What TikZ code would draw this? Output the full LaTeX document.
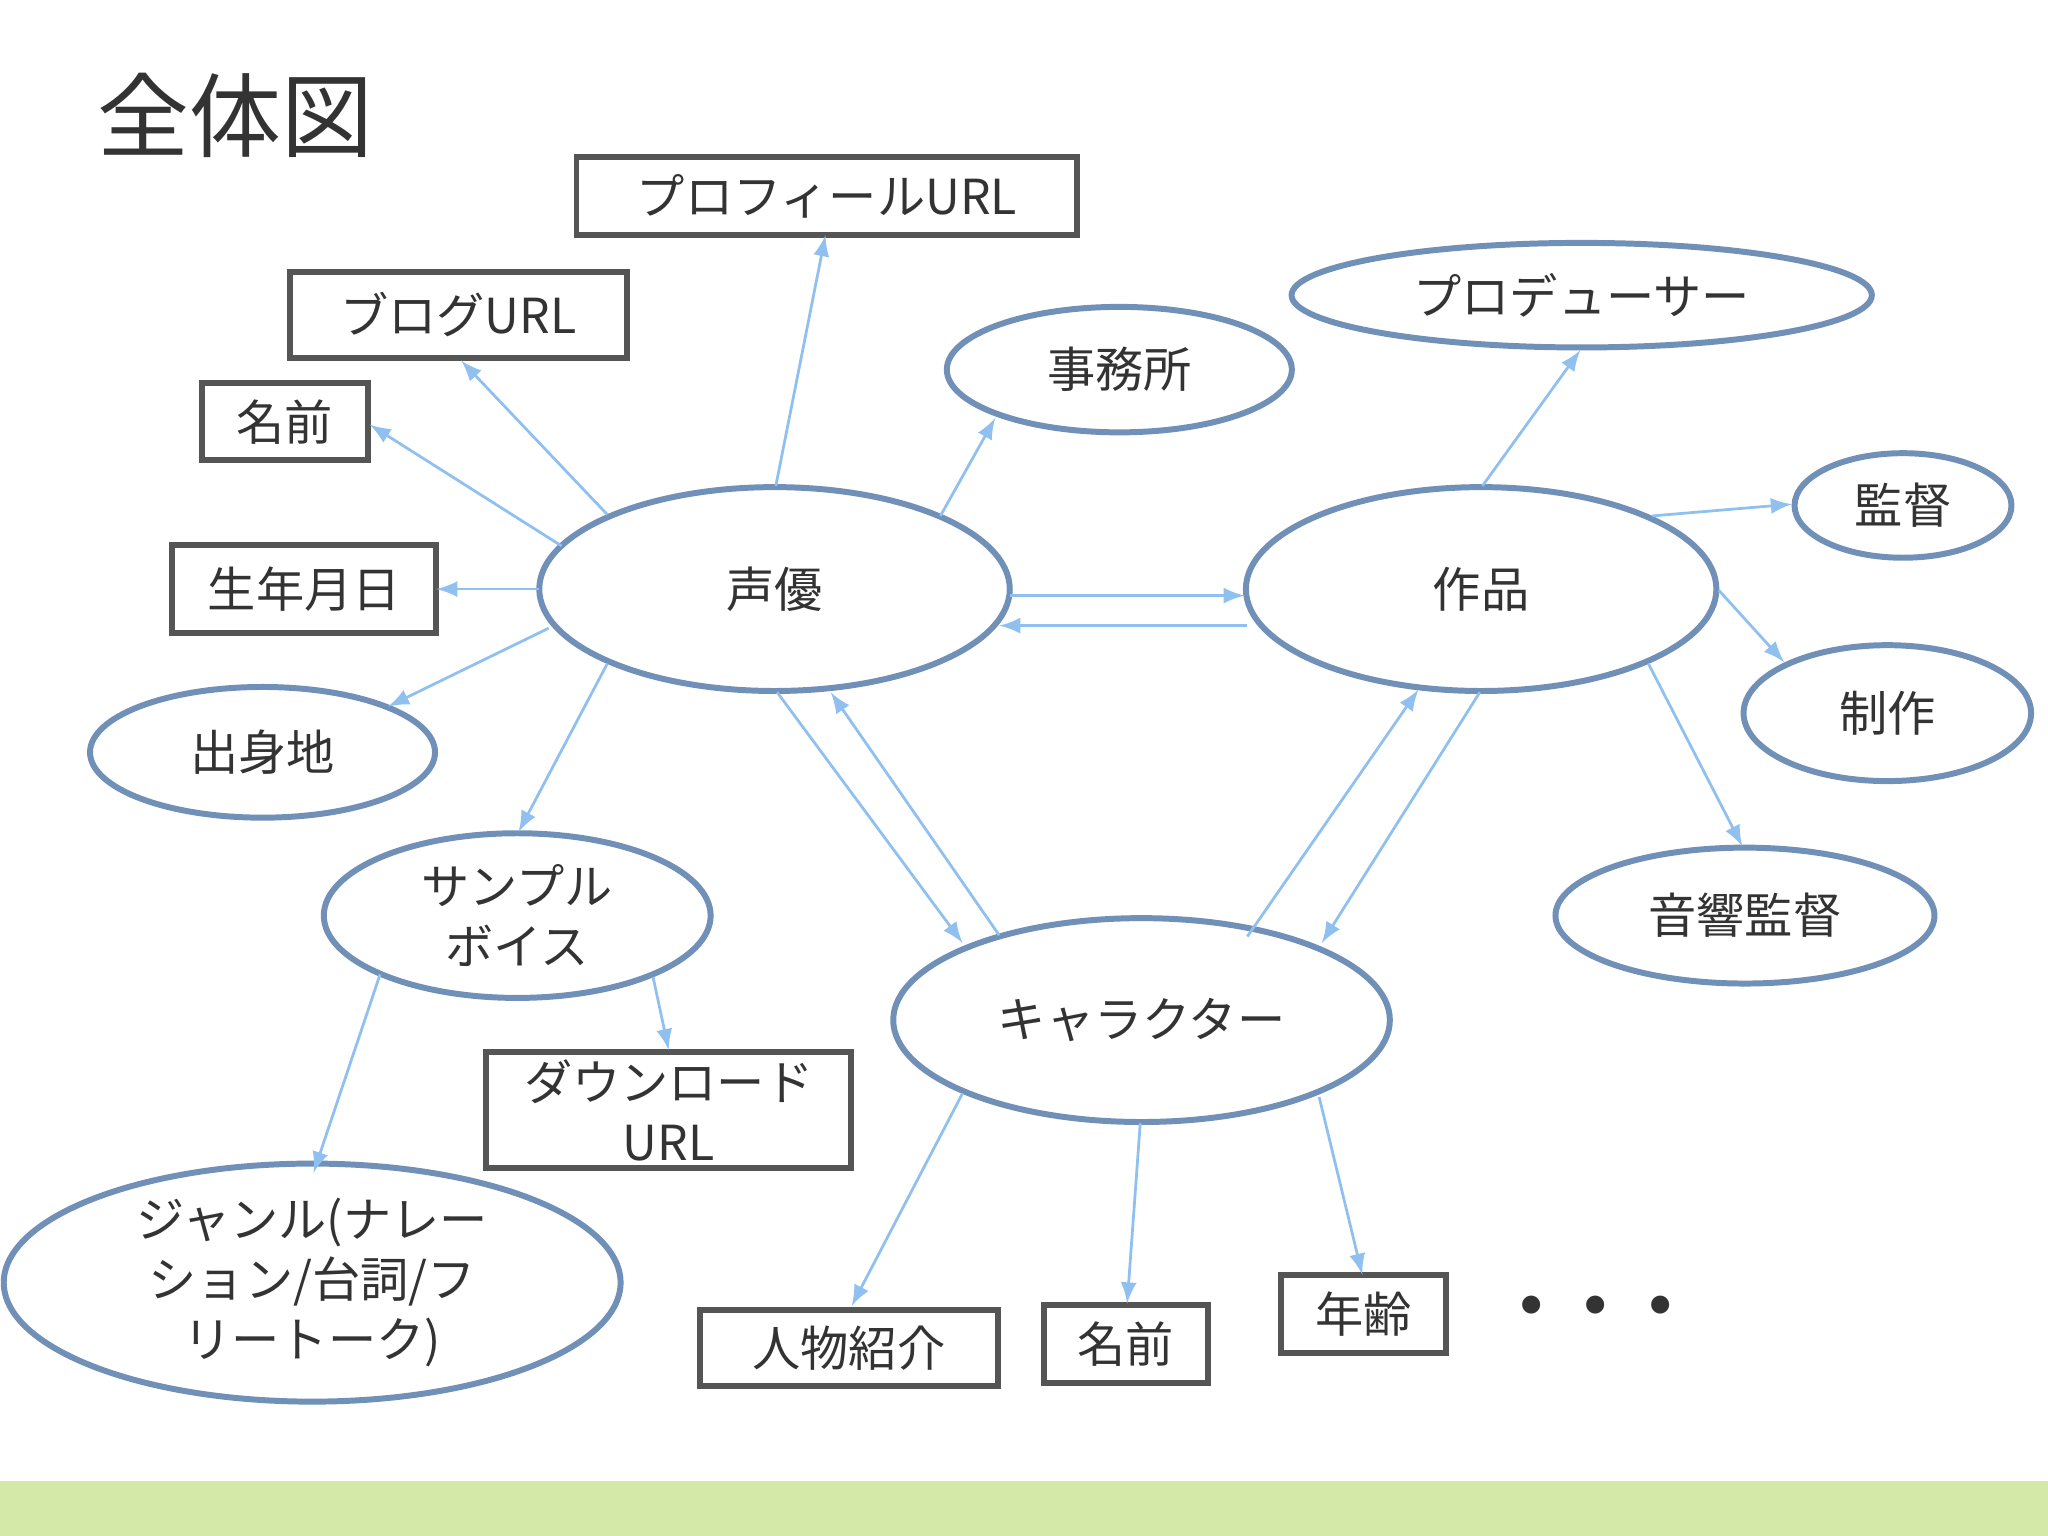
\documentclass[tikz,border=0pt]{standalone}
\usepackage{fontspec}
\setmainfont{Noto Sans CJK JP}
\usetikzlibrary{shapes.geometric}
\definecolor{ebord}{HTML}{7090B8}
\definecolor{rbord}{HTML}{555555}
\definecolor{arr}{HTML}{90C0F0}
\definecolor{barg}{HTML}{D4E8A8}
\begin{document}
\begin{tikzpicture}[x=0.01cm,y=-0.01cm,
  el/.style={ellipse,draw=ebord,line width=1.3pt,inner sep=0pt,font=\fontsize{10.5pt}{13pt}\selectfont,align=center,text=black!80},
  bx/.style={rectangle,draw=rbord,line width=1.3pt,inner sep=0pt,font=\fontsize{10.5pt}{13pt}\selectfont,align=center,text=black!80},
  ar/.style={draw=arr,line width=0.6pt,-latex}]
\useasboundingbox (0,0) rectangle (1568,1176);
\fill[white] (0,0) rectangle (1568,1176);
\fill[barg] (0,1134) rectangle (1568,1176);
\node[font=\fontsize{20pt}{24pt}\selectfont,text=black!80] (title) at (180,88) {全体図};
\node[bx,minimum width=3.83cm,minimum height=0.6cm] (prof) at (633,150) {プロフィールURL};
\node[bx,minimum width=2.58cm,minimum height=0.66cm] (blog) at (351,241) {ブログURL};
\node[bx,minimum width=1.27cm,minimum height=0.59cm] (name1) at (218,323) {名前};
\node[bx,minimum width=2.02cm,minimum height=0.67cm] (birth) at (233,451) {生年月日};
\node[el,minimum width=2.64cm,minimum height=1.0cm] (from) at (201,576) {出身地};
\node[el,minimum width=3.6cm,minimum height=1.56cm] (seiyu) at (593,451) {声優};
\node[el,minimum width=2.64cm,minimum height=0.96cm] (office) at (857,283) {事務所};
\node[el,minimum width=4.44cm,minimum height=0.8cm] (prod) at (1211,226) {プロデューサー};
\node[el,minimum width=3.6cm,minimum height=1.56cm] (work) at (1134,451) {作品};
\node[el,minimum width=1.66cm,minimum height=0.8cm] (dir) at (1457,387) {監督};
\node[el,minimum width=2.2cm,minimum height=1.04cm] (make) at (1445,546) {制作};
\node[el,minimum width=2.9cm,minimum height=1.04cm] (sound) at (1336,701) {音響監督};
\node[el,minimum width=3.8cm,minimum height=1.56cm] (chara) at (874,781) {キャラクター};
\node[el,minimum width=2.96cm,minimum height=1.26cm] (sample) at (396,701) {サンプル\\ボイス};
\node[bx,minimum width=2.79cm,minimum height=0.89cm] (dl) at (512,850) {ダウンロード\\URL};
\node[el,minimum width=4.72cm,minimum height=1.64cm] (genre) at (239,982) {ジャンル(ナレー\\ション/台詞/フ\\リートーク)};
\node[bx,minimum width=2.28cm,minimum height=0.58cm] (intro) at (650,1032) {人物紹介};
\node[bx,minimum width=1.26cm,minimum height=0.59cm] (name2) at (862,1029) {名前};
\node[bx,minimum width=1.26cm,minimum height=0.6cm] (age) at (1044,1006) {年齢};
\node[font=\fontsize{14pt}{16pt}\selectfont\bfseries,text=black!80] (dots) at (1222,1005) {・・・};
% connectors
\coordinate (s1) at (594,372); \coordinate (p1) at (632,180);
\draw[ar] (s1) -- (p1);
\coordinate (s2) at (465,394); \coordinate (b2) at (353,276);
\draw[ar] (s2) -- (b2);
\coordinate (s3) at (430,418); \coordinate (n3) at (283,325);
\draw[ar] (s3) -- (n3);
\coordinate (s4) at (413,451); \coordinate (bi4) at (334,451);
\draw[ar] (s4) -- (bi4);
\coordinate (s5) at (420,481); \coordinate (f5) at (297,541);
\draw[ar] (s5) -- (f5);
\coordinate (s6) at (720,395); \coordinate (o6) at (762,320);
\draw[ar] (s6) -- (o6);
\coordinate (s7) at (773,456); \coordinate (w7) at (953,456);
\draw[ar] (s7) -- (w7);
\coordinate (w8) at (955,479); \coordinate (s8) at (765,479);
\draw[ar] (w8) -- (s8);
\coordinate (s9) at (465,508); \coordinate (sa9) at (397,637);
\draw[ar] (s9) -- (sa9);
\coordinate (s10) at (595,530); \coordinate (c10) at (737,722);
\draw[ar] (s10) -- (c10);
\coordinate (c11) at (765,716); \coordinate (s11) at (636,530);
\draw[ar] (c11) -- (s11);
\coordinate (w12) at (1135,372); \coordinate (pr12) at (1210,268);
\draw[ar] (w12) -- (pr12);
\coordinate (w13) at (1265,395); \coordinate (d13) at (1372,386);
\draw[ar] (w13) -- (d13);
\coordinate (w14) at (1316,452); \coordinate (m14) at (1366,507);
\draw[ar] (w14) -- (m14);
\coordinate (w15) at (1262,508); \coordinate (so15) at (1334,648);
\draw[ar] (w15) -- (so15);
\coordinate (c16) at (955,717); \coordinate (w16) at (1086,528);
\draw[ar] (c16) -- (w16);
\coordinate (w17) at (1133,530); \coordinate (c17) at (1012,722);
\draw[ar] (w17) -- (c17);
\coordinate (sa18) at (291,746); \coordinate (g18) at (240,898);
\draw[ar] (sa18) -- (g18);
\coordinate (sa19) at (500,748); \coordinate (dl19) at (512,804);
\draw[ar] (sa19) -- (dl19);
\coordinate (c20) at (737,837); \coordinate (i20) at (652,1000);
\draw[ar] (c20) -- (i20);
\coordinate (c21) at (873,860); \coordinate (n21) at (863,998);
\draw[ar] (c21) -- (n21);
\coordinate (c22) at (1010,840); \coordinate (a22) at (1043,976);
\draw[ar] (c22) -- (a22);
\end{tikzpicture}
\end{document}
